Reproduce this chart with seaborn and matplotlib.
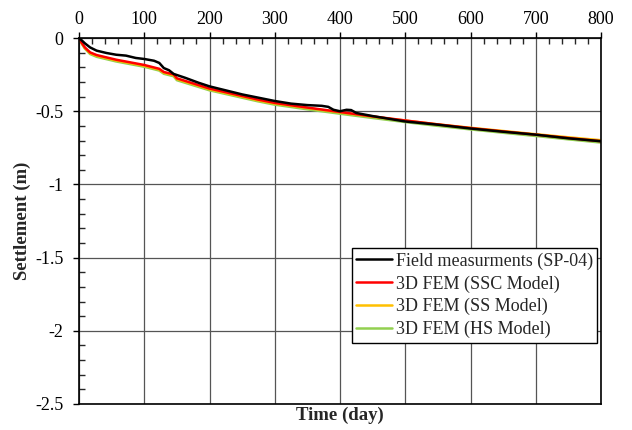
import matplotlib
matplotlib.use("Agg")
import matplotlib.pyplot as plt
import seaborn as sns
import pandas as pd
from matplotlib.ticker import MultipleLocator

# Data
field_day = [0, 4, 9, 17, 27, 42, 57, 72, 87, 100, 115, 123, 130, 138, 145, 155, 163, 183, 200, 250, 300, 325, 350, 372, 382, 390, 400, 410, 417, 425, 450, 500, 550, 600, 650, 700, 750, 800]
field_val = [0, -0.015, -0.036, -0.064, -0.086, -0.102, -0.114, -0.12, -0.136, -0.143, -0.155, -0.17, -0.205, -0.22, -0.245, -0.26, -0.272, -0.305, -0.33, -0.385, -0.43, -0.448, -0.458, -0.463, -0.47, -0.49, -0.5, -0.49, -0.492, -0.512, -0.533, -0.57, -0.592, -0.618, -0.64, -0.66, -0.685, -0.705]

model_day = [0, 3, 9, 17, 27, 57, 100, 123, 130, 145, 150, 200, 274, 300, 350, 400, 450, 500, 550, 600, 650, 700, 750, 800]
ssc_val = [0, -0.025, -0.064, -0.098, -0.116, -0.148, -0.184, -0.21, -0.232, -0.248, -0.275, -0.345, -0.42, -0.443, -0.475, -0.505, -0.535, -0.563, -0.59, -0.615, -0.638, -0.66, -0.683, -0.705]
ss_val = [0, -0.028, -0.068, -0.103, -0.121, -0.153, -0.189, -0.215, -0.237, -0.253, -0.28, -0.35, -0.425, -0.447, -0.478, -0.508, -0.537, -0.564, -0.59, -0.613, -0.635, -0.657, -0.678, -0.698]
hs_val = [0, -0.03, -0.072, -0.109, -0.128, -0.16, -0.196, -0.222, -0.244, -0.261, -0.288, -0.357, -0.432, -0.455, -0.487, -0.517, -0.546, -0.574, -0.6, -0.624, -0.647, -0.669, -0.692, -0.714]

labels = ["Field measurments (SP-04)", "3D FEM (SSC Model)", "3D FEM (SS Model)", "3D FEM (HS Model)"]
colors = ["#000000", "#ff0000", "#ffc000", "#92d050"]

sns.set_theme(style="white")
plt.rcParams["font.family"] = ["Liberation Serif", "DejaVu Serif"]

fig = plt.figure(figsize=(6.32, 4.30), dpi=100)
ax = fig.add_axes([0.125, 0.0605, 0.826, 0.851])

df = pd.concat([
    pd.DataFrame({"day": field_day, "val": field_val, "series": labels[0]}),
    pd.DataFrame({"day": model_day, "val": ssc_val, "series": labels[1]}),
    pd.DataFrame({"day": model_day, "val": ss_val, "series": labels[2]}),
    pd.DataFrame({"day": model_day, "val": hs_val, "series": labels[3]}),
])

order_draw = [labels[3], labels[2], labels[1], labels[0]]
for lab in order_draw:
    sub = df[df.series == lab]
    sns.lineplot(data=sub, x="day", y="val", ax=ax, color=colors[labels.index(lab)],
                 linewidth=1.8, label=lab, estimator=None, sort=False)

ax.set_xlim(0, 800)
ax.set_ylim(-2.5, 0)
ax.xaxis.set_major_locator(MultipleLocator(100))
ax.xaxis.set_minor_locator(MultipleLocator(20))
ax.yaxis.set_minor_locator(MultipleLocator(0.1))
ax.xaxis.tick_top()
ax.xaxis.set_label_position("bottom")
ax.set_yticks([0, -0.5, -1, -1.5, -2, -2.5])
ax.set_yticklabels(["0", "-0.5", "-1", "-1.5", "-2", "-2.5"])
ax.tick_params(axis="both", which="major", direction="out", length=4, width=1, labelsize=13, colors="black", pad=3)
ax.tick_params(axis="y", which="major", pad=7)
ax.tick_params(axis="both", which="minor", direction="in", length=4, width=1)
ax.tick_params(axis="x", which="both", top=True, bottom=False)
ax.tick_params(axis="y", which="both", left=True, right=False)
ax.grid(True, which="major", color="#555555", linewidth=0.9)
for s in ax.spines.values():
    s.set_color("black")
    s.set_linewidth(1.2)
ax.set_xlabel("Time (day)", fontsize=13.5, fontweight="bold", labelpad=2)
ax.set_ylabel("Settlement (m)", fontsize=13.5, fontweight="bold", labelpad=3)

handles, labs = ax.get_legend_handles_labels()
hmap = dict(zip(labs, handles))
leg = ax.legend([hmap[l] for l in labels], labels, loc="lower right",
                bbox_to_anchor=(0.993, 0.168), fontsize=13, frameon=True, fancybox=False,
                edgecolor="black", framealpha=1, handlelength=2.0, handletextpad=0.2,
                borderpad=0.25, labelspacing=0.3, borderaxespad=0)
leg.get_frame().set_linewidth(1.0)

fig.savefig("out.png", dpi=100)
